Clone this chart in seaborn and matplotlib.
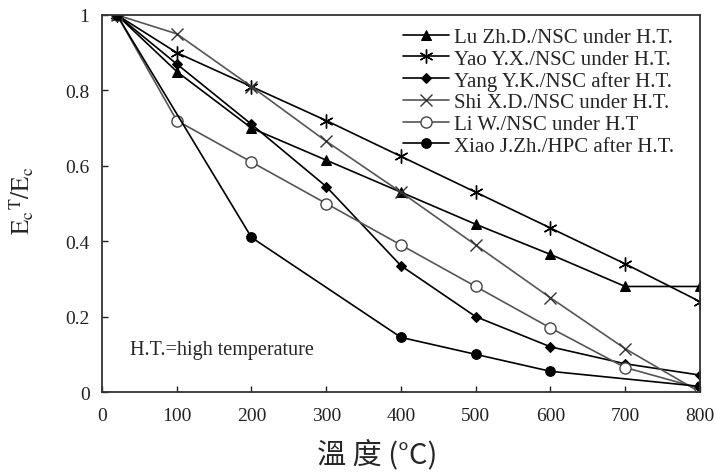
import matplotlib
matplotlib.use("Agg")
import matplotlib.pyplot as plt
import seaborn as sns
import pandas as pd

# Elastic modulus ratio vs. temperature for several studies
temps_full = [20, 100, 200, 300, 400, 500, 600, 700, 800]
temps_xiao = [20, 200, 400, 500, 600, 800]

lu_zhd = [1.0, 0.85, 0.70, 0.615, 0.53, 0.445, 0.365, 0.28, 0.28]
yao_yx = [1.0, 0.90, 0.81, 0.72, 0.625, 0.53, 0.435, 0.34, 0.24]
yang_yk = [1.0, 0.87, 0.71, 0.545, 0.335, 0.20, 0.12, 0.075, 0.045]
shi_xd = [1.0, 0.95, 0.81, 0.665, 0.53, 0.39, 0.25, 0.115, 0.0]
li_w = [1.0, 0.72, 0.61, 0.50, 0.39, 0.28, 0.17, 0.065, 0.01]
xiao_jzh = [1.0, 0.41, 0.145, 0.10, 0.055, 0.015]

labels = [
    "Lu Zh.D./NSC under H.T.",
    "Yao Y.X./NSC under H.T.",
    "Yang Y.K./NSC after H.T.",
    "Shi X.D./NSC under H.T.",
    "Li W./NSC under H.T",
    "Xiao J.Zh./HPC after H.T.",
]
x_ticks = [0, 100, 200, 300, 400, 500, 600, 700, 800]
y_ticks = [0, 0.2, 0.4, 0.6, 0.8, 1.0]
y_tick_labels = ["0", "0.2", "0.4", "0.6", "0.8", "1"]

sns.set_style("ticks")
plt.rcParams["font.family"] = ["Liberation Serif", "DejaVu Serif"]
plt.rcParams["mathtext.fontset"] = "stix"

series = [
    (temps_full, lu_zhd, dict(color="black", marker="^", ms=7, mfc="black", mec="black")),
    (temps_full, yao_yx, dict(color="black", marker=(6, 2, 0), ms=10, mew=1.0, mec="black")),
    (temps_full, yang_yk, dict(color="black", marker="D", ms=5.5, mfc="black", mec="black")),
    (temps_full, shi_xd, dict(color="#555555", marker="x", ms=8, mew=1.0, mec="#333333")),
    (temps_full, li_w, dict(color="#555555", marker="o", ms=8, mfc="white", mec="#444444", mew=1.0)),
    (temps_xiao, xiao_jzh, dict(color="black", marker="o", ms=7, mfc="black", mec="black")),
]

fig = plt.figure(figsize=(7.16, 4.77), dpi=100)
ax = fig.add_axes([0.1425, 0.176, 0.835, 0.7905])

for (xs, ys, style), lab in zip(series, labels):
    df = pd.DataFrame({"T": xs, "E": ys})
    color = style.pop("color")
    sns.lineplot(data=df, x="T", y="E", ax=ax, color=color, lw=1.2,
                 label=lab, **style)

ax.set_xlim(0, 800)
ax.set_ylim(0, 1.0)
ax.set_xticks(x_ticks)
ax.set_xticklabels([str(v) for v in x_ticks])
ax.set_yticks(y_ticks)
ax.set_yticklabels(y_tick_labels)
ax.tick_params(direction="in", length=4, width=1, labelsize=14, colors="#222222")
ax.tick_params(axis="x", pad=11)
ax.tick_params(axis="y", pad=9)
for s in ax.spines.values():
    s.set_color("#333333")
    s.set_linewidth(1.3)

ax.set_xlabel("溫 度 (°C)", family=["Noto Sans CJK TC", "Liberation Serif"],
              fontsize=21)
ax.xaxis.set_label_coords(0.46, -0.125)
ax.set_ylabel(r"$\mathrm{E_c}^{\mathrm{T}}/\mathrm{E_c}$", fontsize=18)
ax.yaxis.set_label_coords(-0.11, 0.51)

ax.text(37, 0.112, "H.T.=high temperature", fontsize=14.5, va="center", ha="left")

leg = ax.legend(loc="upper left", bbox_to_anchor=(0.482, 1.0), frameon=False,
                fontsize=15, labelspacing=0.1, handlelength=2.2,
                handletextpad=0.25, borderaxespad=0.2)

fig.savefig("out.png", dpi=100)
